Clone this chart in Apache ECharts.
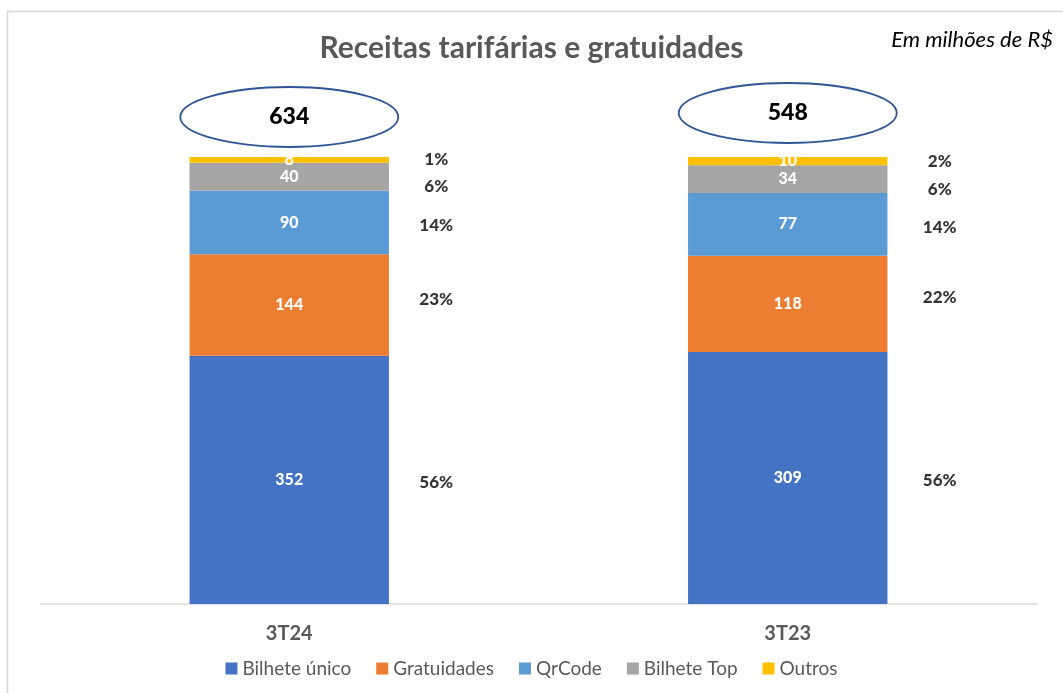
<!DOCTYPE html>
<html>
<head>
<meta charset="utf-8">
<script src="https://cdn.jsdelivr.net/npm/echarts@6/dist/echarts.min.js"></script>
<style>
  html, body { margin: 0; padding: 0; background: #fff; }
  #chart { width: 1063px; height: 693px; }
</style>
</head>
<body>
<div id="chart"></div>
<script>
var categories = ['3T24', '3T23'];
var seriesNames = ['Bilhete único', 'Gratuidades', 'QrCode', 'Bilhete Top', 'Outros'];
var bilheteUnico = [352, 309];
var gratuidades = [144, 118];
var qrCode = [90, 77];
var bilheteTop = [40, 34];
var outros = [8, 10];

var rawSeries = [bilheteUnico, gratuidades, qrCode, bilheteTop, outros];
var colors = ['#4472C4', '#ED7D31', '#5B9BD5', '#A5A5A5', '#FFC000'];
var pctLabelShift = [3, -6, 3, 10, 0];

var FONT = 'Lato, "Open Sans", sans-serif';

var totals = categories.map(function (c, i) {
    var s = 0;
    rawSeries.forEach(function (arr) { s += arr[i]; });
    return s;
});

var barSeries = rawSeries.map(function (arr, k) {
    return {
        name: seriesNames[k],
        type: 'bar',
        stack: 'total',
        barWidth: '40%',
        itemStyle: { color: colors[k] },
        label: {
            show: true,
            position: 'inside',
            color: '#fff',
            fontFamily: FONT,
            fontWeight: 900,
            fontSize: 16,
            formatter: function (p) { return p.data.raw; }
        },
        data: arr.map(function (v, i) {
            return { value: v / totals[i] * 100, raw: v };
        })
    };
});

// percent labels to the right of each segment
var pctData = [];
categories.forEach(function (c, i) {
    var acc = 0;
    rawSeries.forEach(function (arr, k) {
        var share = arr[i] / totals[i] * 100;
        pctData.push({
            value: [c, acc + share / 2],
            label: { offset: [i === 0 ? 147 : 152, pctLabelShift[k]] },
            pct: Math.round(share) + '%'
        });
        acc += share;
    });
});

var option = {
    backgroundColor: '#fff',
    animation: false,
    title: {
        text: 'Receitas tarifárias e gratuidades',
        left: 'center',
        top: 28,
        textStyle: { fontFamily: FONT, fontSize: 30, fontWeight: 'bold', color: '#595959' }
    },
    graphic: [
        {
            type: 'rect',
            shape: { x: 7.5, y: 11.5, width: 1100, height: 700 },
            style: { fill: 'none', stroke: '#D9D9D9', lineWidth: 1.5 },
            silent: true
        },
        {
            type: 'text',
            right: 10,
            top: 29,
            style: {
                text: 'Em milhões de R$',
                fontFamily: FONT,
                fontStyle: 'italic',
                fontSize: 22,
                fill: '#000'
            }
        }
    ],
    legend: {
        data: seriesNames,
        top: 654,
        left: 'center',
        icon: 'rect',
        itemWidth: 12,
        itemHeight: 12,
        itemGap: 25,
        textStyle: { fontFamily: FONT, fontSize: 19, color: '#595959' }
    },
    grid: { left: 40, right: 26, top: 157, bottom: 89 },
    xAxis: {
        type: 'category',
        data: categories,
        axisLine: { lineStyle: { color: '#D9D9D9', width: 1.5 } },
        axisTick: { show: false },
        axisLabel: {
            margin: 20,
            fontFamily: FONT,
            fontSize: 20,
            fontWeight: 'bold',
            color: '#595959'
        }
    },
    yAxis: {
        type: 'value',
        min: 0,
        max: 100,
        show: false,
        splitLine: { show: false }
    },
    series: barSeries.concat([
        {
            name: 'pct',
            type: 'scatter',
            symbolSize: 0,
            silent: true,
            label: {
                show: true,
                position: 'inside',
                fontFamily: FONT,
                fontSize: 17,
                fontWeight: 900,
                color: '#000',
                formatter: function (p) { return p.data.pct; }
            },
            data: pctData
        },
        {
            name: 'total',
            type: 'custom',
            silent: true,
            clip: false,
            renderItem: function (params, api) {
                var p = api.coord([api.value(0), 100]);
                var cy = p[1] - 40 - params.dataIndex * 4;
                return {
                    type: 'group',
                    children: [
                        {
                            type: 'ellipse',
                            shape: { cx: p[0], cy: cy, rx: 109, ry: 30 },
                            style: { fill: '#fff', stroke: '#2F5597', lineWidth: 1.8 }
                        },
                        {
                            type: 'text',
                            x: p[0],
                            y: cy,
                            style: {
                                text: String(api.value(1)),
                                align: 'center',
                                verticalAlign: 'middle',
                                fontFamily: FONT,
                                fontSize: 23,
                                fontWeight: 900,
                                fill: '#000'
                            }
                        }
                    ]
                };
            },
            data: categories.map(function (c, i) {
                return [i, totals[i]];
            })
        }
    ])
};

var myChart = echarts.init(document.getElementById('chart'));
myChart.setOption(option);
</script>
</body>
</html>
